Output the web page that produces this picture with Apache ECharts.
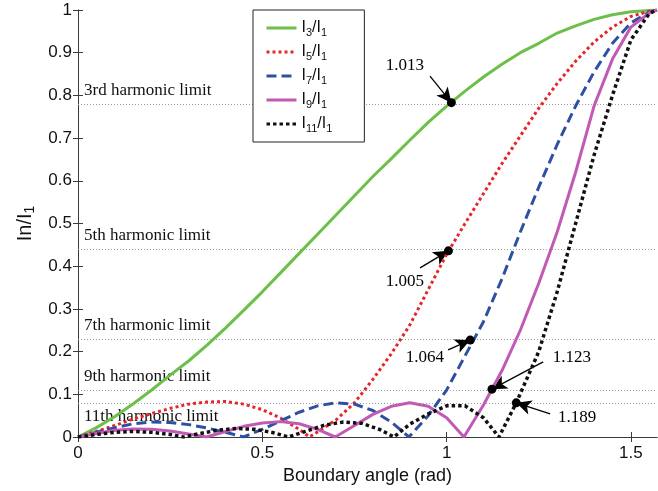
<!DOCTYPE html>
<html><head><meta charset="utf-8">
<script src="https://cdn.jsdelivr.net/npm/echarts@6/dist/echarts.min.js"></script>
<style>html,body{margin:0;padding:0;background:#fff}#c{width:658px;height:491px}</style>
</head><body><div id="c"></div>
<script>
// ---- data ----
const x3 = [0,0.05,0.1,0.15,0.2,0.25,0.3,0.35,0.4,0.45,0.5,0.55,0.6,0.65,0.7,0.75,0.8,0.85,0.9,0.95,1.0,1.05,1.1,1.15,1.2,1.25,1.3,1.35,1.4,1.45,1.5,1.55,1.5708];
const y3 = [0,0.022,0.048,0.078,0.11,0.145,0.178,0.215,0.255,0.297,0.34,0.385,0.43,0.475,0.52,0.565,0.61,0.652,0.695,0.737,0.775,0.81,0.843,0.873,0.9,0.922,0.946,0.963,0.978,0.989,0.996,0.999,1];

const x5 = [0,0.05,0.1,0.15,0.2,0.25,0.3,0.35,0.4,0.45,0.5,0.55,0.6,0.628,0.65,0.7,0.75,0.8,0.85,0.9,0.95,1.0,1.05,1.1,1.15,1.2,1.25,1.3,1.35,1.4,1.45,1.5,1.55,1.5708];
const y5 = [0,0.013,0.027,0.042,0.055,0.067,0.077,0.082,0.083,0.077,0.064,0.044,0.018,0,0.012,0.04,0.08,0.135,0.195,0.262,0.345,0.428,0.5,0.57,0.64,0.705,0.77,0.828,0.88,0.925,0.96,0.985,0.997,1];

const x7 = [0,0.05,0.1,0.15,0.2,0.25,0.3,0.35,0.4,0.449,0.5,0.55,0.6,0.65,0.7,0.75,0.8,0.85,0.898,0.95,1.0,1.05,1.1,1.15,1.2,1.25,1.3,1.35,1.4,1.45,1.5,1.55,1.5708];
const y7 = [0,0.011,0.022,0.031,0.035,0.034,0.029,0.021,0.011,0,0.018,0.038,0.058,0.073,0.08,0.077,0.062,0.035,0,0.05,0.11,0.19,0.27,0.37,0.48,0.585,0.685,0.775,0.855,0.922,0.97,0.995,1];

const x9 = [0,0.05,0.1,0.15,0.2,0.25,0.3,0.349,0.4,0.45,0.5,0.55,0.6,0.65,0.698,0.75,0.8,0.85,0.9,0.95,1.0,1.047,1.1,1.15,1.2,1.25,1.3,1.35,1.4,1.45,1.5,1.55,1.5708];
const y9 = [0,0.008,0.016,0.019,0.018,0.014,0.007,0,0.013,0.025,0.033,0.036,0.031,0.018,0,0.027,0.053,0.072,0.08,0.072,0.045,0,0.075,0.155,0.25,0.36,0.48,0.62,0.775,0.885,0.96,0.993,1];

const x11 = [0,0.05,0.1,0.15,0.2,0.25,0.286,0.33,0.38,0.43,0.48,0.53,0.571,0.62,0.67,0.72,0.77,0.82,0.857,0.9,0.95,1.0,1.05,1.1,1.142,1.189,1.25,1.3,1.35,1.4,1.45,1.5,1.55,1.5708];
const y11 = [0,0.006,0.011,0.013,0.011,0.006,0,0.008,0.016,0.02,0.018,0.01,0,0.014,0.028,0.035,0.032,0.017,0,0.03,0.054,0.073,0.073,0.045,0,0.08,0.2,0.34,0.5,0.66,0.8,0.93,0.992,1];

const seriesNames = ['I3/I1','I5/I1','I7/I1','I9/I1','I11/I1'];

const limitValues = [0.783, 0.436, 0.227, 0.112, 0.080];
const limitLabels = ['3rd harmonic limit','5th harmonic limit','7th harmonic limit','9th harmonic limit','11th harmonic limit'];

const annX = [1.013, 1.005, 1.064, 1.123, 1.189];
const annY = [0.783, 0.436, 0.227, 0.112, 0.080];
const annText = ['1.013','1.005','1.064','1.123','1.189'];

const xTicks = [0, 0.5, 1, 1.5];

// ---- layout (annotation text anchors and arrow tails, in axis units) ----
const annTextAt = [[0.887,0.869],[0.887,0.365],[0.941,0.185],[1.34,0.187],[1.354,0.045]];
const annTailAt = [[0.955,0.845],[0.928,0.396],[1.004,0.204],[1.262,0.176],[1.281,0.054]];

const pair = (xs, ys) => xs.map((x, i) => [x, ys[i]]);
const XMAX = Math.PI / 2;
const frame = '#3a3a3a';
const sans = 'Liberation Sans, Arial, sans-serif';
const serif = 'Liberation Serif, Times New Roman, serif';

function lineSeries(name, xs, ys, color, type, width) {
  return {
    name, type: 'line', data: pair(xs, ys), symbol: 'none', smooth: false,
    lineStyle: { color, width, type, cap: 'butt' }, itemStyle: { color },
    z: 5, animation: false, clip: true
  };
}

const chart = echarts.init(document.getElementById('c'), null, { renderer: 'canvas' });
chart.setOption({
  animation: false,
  backgroundColor: '#fff',
  grid: { left: 78, right: 1, top: 10, bottom: 54 },
  legend: {
    data: seriesNames, orient: 'vertical', left: 253, top: 10,
    backgroundColor: '#fff', borderColor: '#222', borderWidth: 1, borderRadius: 0,
    padding: [10, 32, 8, 12], itemWidth: 30, itemHeight: 14, itemGap: 6, itemTextGap: 10,
    selectedMode: false, z: 10,
    itemStyle: { opacity: 0 },
    lineStyle: { width: 3 },
    formatter: n => { const m = n.match(/I(\d+)\/I1/); return '{m|I}{s|' + m[1] + '}{m|/I}{s|1}'; },
    textStyle: {
      fontFamily: sans, color: '#111',
      rich: { m: { fontSize: 16, lineHeight: 20, fontFamily: sans, color: '#111' },
              s: { fontSize: 11, lineHeight: 10, verticalAlign: 'bottom', fontFamily: sans, color: '#111' } }
    }
  },
  xAxis: [{
    type: 'value', min: 0, max: XMAX, position: 'bottom',
    axisLine: { show: true, lineStyle: { color: frame, width: 1 } },
    axisTick: { show: true, inside: true, length: 5, customValues: xTicks, lineStyle: { color: frame } },
    axisLabel: { customValues: xTicks, fontSize: 17, fontFamily: sans, color: '#111', margin: 8 },
    splitLine: { show: false },
    name: 'Boundary angle (rad)', nameLocation: 'middle', nameGap: 22,
    nameTextStyle: { fontSize: 18, fontFamily: sans, color: '#111' }
  }, {
    type: 'value', min: 0, max: XMAX, position: 'top',
    axisLine: { show: true, lineStyle: { color: frame, width: 1 } },
    axisTick: { show: true, inside: true, length: 5, customValues: xTicks, lineStyle: { color: frame } },
    axisLabel: { show: false }, splitLine: { show: false }
  }],
  yAxis: [{
    type: 'value', min: 0, max: 1, interval: 0.1, position: 'left',
    axisLine: { show: true, lineStyle: { color: frame, width: 1 } },
    axisTick: { show: true, inside: true, length: 5, lineStyle: { color: frame } },
    axisLabel: { fontSize: 17, fontFamily: sans, color: '#111', margin: 6 },
    splitLine: { show: false },
    name: '{m|In/I}{s|1}', nameLocation: 'middle', nameRotate: 90, nameGap: 39,
    nameTextStyle: { fontFamily: sans, color: '#111',
      rich: { m: { fontSize: 20, lineHeight: 24, fontFamily: sans, color: '#111' },
              s: { fontSize: 14, lineHeight: 12, verticalAlign: 'bottom', fontFamily: sans, color: '#111' } } }
  }, {
    type: 'value', min: 0, max: 1, interval: 0.1, position: 'right',
    axisLine: { show: true, lineStyle: { color: frame, width: 1 } },
    axisTick: { show: true, inside: true, length: 5, lineStyle: { color: frame } },
    axisLabel: { show: false }, splitLine: { show: false }
  }],
  series: [
    lineSeries(seriesNames[0], x3, y3, '#6cbf48', 'solid', 3),
    lineSeries(seriesNames[1], x5, y5, '#e8242a', [3, 3], 3),
    lineSeries(seriesNames[2], x7, y7, '#2e50a2', [10, 5], 3),
    lineSeries(seriesNames[3], x9, y9, '#c05ab4', 'solid', 3),
    lineSeries(seriesNames[4], x11, y11, '#111111', [3.5, 3], 3.5),
    {
      name: 'limits', type: 'scatter', symbolSize: 0, silent: true, z: 2,
      itemStyle: { opacity: 1 },
      data: annTextAt.map((p, i) => [p[0], p[1], annText[i]]),
      label: { show: true, position: 'inside', formatter: p => p.data[2],
               fontFamily: serif, fontSize: 17, color: '#000', opacity: 1 },
      markLine: {
        silent: true, symbol: ['none', 'none'], animation: false,
        data: limitValues.map((v, i) => ({
          yAxis: v, name: limitLabels[i],
          lineStyle: { color: '#a0a0a0', width: 1, type: [1, 2] },
          label: { show: true, formatter: limitLabels[i], position: i === 4 ? 'insideStartBottom' : 'insideStartTop',
                   distance: [6, 5], fontFamily: serif, fontSize: 17, color: '#111' }
        }))
      }
    },
    {
      name: 'marks', type: 'scatter', symbol: 'circle', symbolSize: 9, z: 8, silent: true,
      itemStyle: { color: '#000', opacity: 1 },
      data: pair(annX, annY),
      markLine: {
        silent: true, animation: false, symbol: ['none', 'arrow'], symbolSize: [11, 15],
        lineStyle: { color: '#000', width: 1.3, type: 'solid', opacity: 1 },
        label: { show: false },
        data: annTailAt.map((t, i) => [{ coord: t }, { coord: [annX[i], annY[i]] }])
      }
    }
  ]
});
</script>
</body></html>
